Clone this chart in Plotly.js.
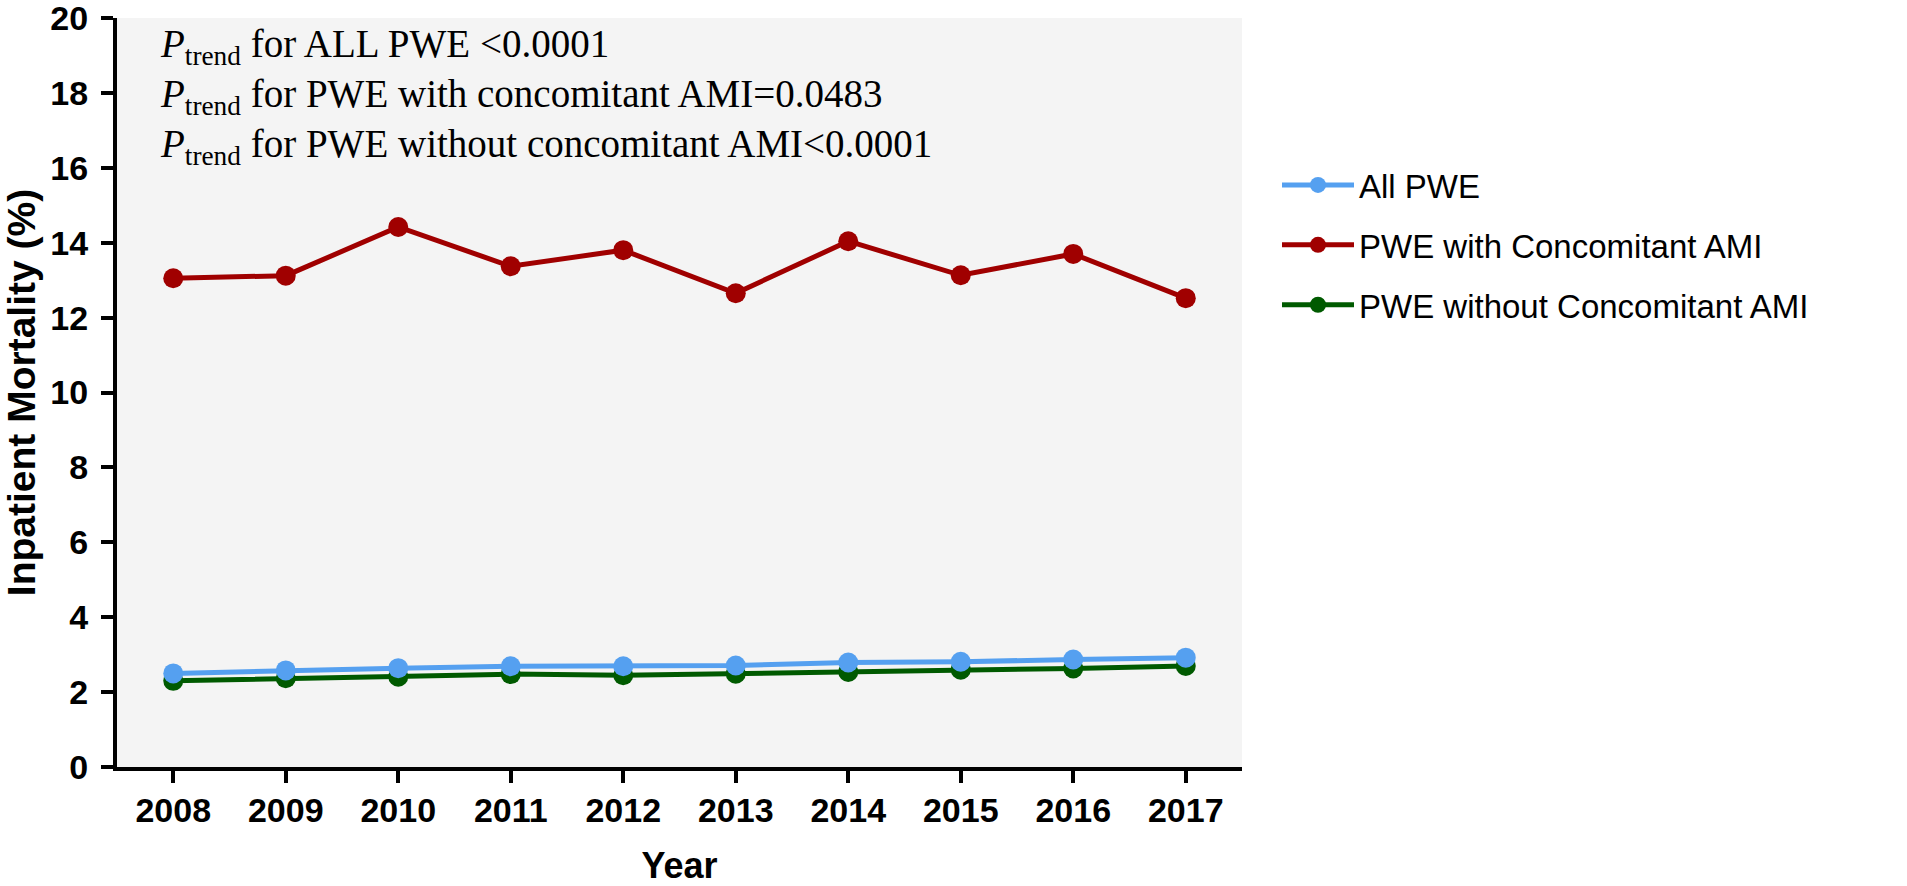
<!DOCTYPE html>
<html>
<head>
<meta charset="utf-8">
<script src="https://cdn.plot.ly/plotly-3.0.1.min.js"></script>
<style>html,body{margin:0;padding:0;background:#fff;}#chart{width:1907px;height:886px;}</style>
</head>
<body>
<div id="chart"></div>
<script>
var years = [2008, 2009, 2010, 2011, 2012, 2013, 2014, 2015, 2016, 2017];
var allPWE = [2.50, 2.58, 2.64, 2.69, 2.69, 2.71, 2.79, 2.81, 2.87, 2.92];
var withAMI = [13.05, 13.12, 14.42, 13.37, 13.80, 12.65, 14.04, 13.13, 13.70, 12.52];
var withoutAMI = [2.30, 2.37, 2.41, 2.48, 2.45, 2.49, 2.54, 2.60, 2.63, 2.70];
var seriesNames = ["All PWE", "PWE with Concomitant AMI", "PWE without Concomitant AMI"];
var yTicks = [0, 2, 4, 6, 8, 10, 12, 14, 16, 18, 20];
var pTrendLines = [
  "<i>P</i><sub>trend</sub> for ALL PWE &lt;0.0001",
  "<i>P</i><sub>trend</sub> for PWE with concomitant AMI=0.0483",
  "<i>P</i><sub>trend</sub> for PWE without concomitant AMI&lt;0.0001"
];

var colors = ["#55a0f0", "#a00000", "#005a00"];
var seriesData = [allPWE, withAMI, withoutAMI];
var traces = [];
[0,1,2].forEach(function(i){
  traces.push({
    x: years, y: seriesData[i], name: seriesNames[i],
    type: 'scatter', mode: 'lines+markers',
    legendgroup: 'g'+i, legendrank: i+1,
    line: {color: colors[i], width: 5},
    marker: {color: colors[i], size: 20}
  });
});
traces = [traces[2], traces[1], traces[0]];

var L = 117, R = 1242, T = 18, B = 767;
var tickFont = {family: "Liberation Sans, Arial, sans-serif", size: 34, color: "#000", weight: "bold"};
var annBase = [46, 96, 147];
var annotations = pTrendLines.map(function(t, k){
  return {
    text: t, xref: 'paper', yref: 'paper', x: (158 - L) / (R - L), xanchor: 'left',
    y: (B - annBase[k]) / (B - T), yanchor: 'middle', showarrow: false,
    font: {family: "Liberation Serif, Times New Roman, serif", size: 39, color: "#000"}
  };
});

var layout = {
  width: 1907, height: 886,
  margin: {l: L, r: 1907 - R, t: T, b: 886 - B},
  paper_bgcolor: '#ffffff', plot_bgcolor: '#f4f4f4',
  showlegend: true,
  legend: {
    x: (1277 - L) / (R - L), xanchor: 'left', y: (B - 157) / (B - T), yanchor: 'top',
    font: {family: "Liberation Sans, Arial", size: 33, color: '#000'},
    traceorder: 'grouped', tracegroupgap: 14, itemwidth: 72, bgcolor: 'rgba(0,0,0,0)'
  },
  xaxis: {
    range: [2007.5, 2017.5], tickmode: 'array', tickvals: years, ticktext: years.map(String),
    showgrid: false, zeroline: false, showline: true, linecolor: '#000', linewidth: 4,
    ticks: 'outside', ticklen: 12, tickwidth: 4, tickcolor: '#000', ticklabelstandoff: -2,
    tickfont: tickFont,
    title: {text: 'Year', font: {family: "Liberation Sans, Arial", size: 36, color: '#000', weight: 'bold'}, standoff: 30}
  },
  yaxis: {
    range: [0, 20], tickmode: 'array', tickvals: yTicks, ticktext: yTicks.map(String),
    showgrid: false, zeroline: false, showline: true, linecolor: '#000', linewidth: 4,
    ticks: 'outside', ticklen: 12, tickwidth: 4, tickcolor: '#000', ticklabelstandoff: 6,
    ticklabeloverflow: 'allow',
    tickfont: tickFont,
    title: {text: 'Inpatient Mortality (%)', font: {family: "Liberation Sans, Arial", size: 39, color: '#000', weight: 'bold'}, standoff: 12}
  },
  annotations: annotations
};

Plotly.newPlot('chart', traces, layout, {displayModeBar: false, staticPlot: true});
</script>
</body>
</html>
